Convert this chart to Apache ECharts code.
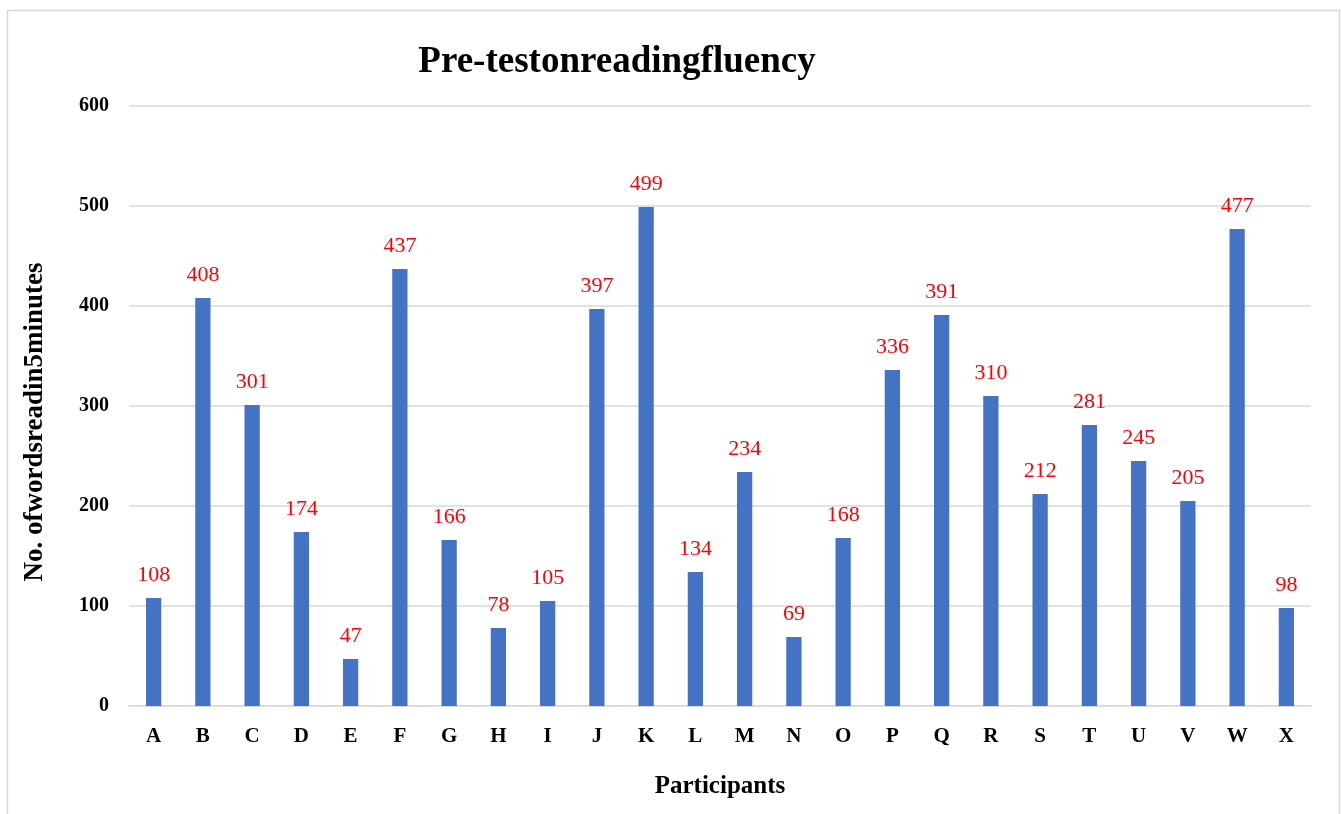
<!DOCTYPE html>
<html><head><meta charset="utf-8">
<script src="https://cdn.jsdelivr.net/npm/echarts@6/dist/echarts.min.js"></script>
<style>html,body{margin:0;padding:0;background:#fff}#c{width:1341px;height:814px}</style>
</head><body><div id="c"></div>
<script>
const categories = ['A','B','C','D','E','F','G','H','I','J','K','L','M','N','O','P','Q','R','S','T','U','V','W','X'];
const values = [108,408,301,174,47,437,166,78,105,397,499,134,234,69,168,336,391,310,212,281,245,205,477,98];
const yTicks = {min:0, max:600, interval:100};
const titleText = 'Pre-testonreadingfluency';
const yName = 'No. ofwordsreadin5minutes';
const xName = 'Participants';
const FONT = '"Liberation Serif","Times New Roman",serif';
const chart = echarts.init(document.getElementById('c'));
chart.setOption({
  animation:false,
  backgroundColor:'#fff',
  graphic:[{type:'rect',shape:{x:7.5,y:10.5,width:1332,height:840},style:{fill:'none',stroke:'#d9d9d9',lineWidth:1.5},silent:true}],
  title:{text:titleText,left:612,textAlign:'center',top:39,textStyle:{fontFamily:FONT,fontWeight:'bold',fontSize:37,color:'#000'}},
  grid:{left:129,right:30,top:106,bottom:108},
  xAxis:{type:'category',data:categories,name:xName,nameLocation:'middle',nameGap:68,
    nameTextStyle:{fontFamily:FONT,fontWeight:'bold',fontSize:25,color:'#000'},
    axisLine:{show:true,lineStyle:{color:'#d9d9d9',width:1.5}},axisTick:{show:false},
    axisLabel:{fontFamily:FONT,fontWeight:'bold',fontSize:21,color:'#000',margin:20}},
  yAxis:{type:'value',min:yTicks.min,max:yTicks.max,interval:yTicks.interval,name:yName,nameLocation:'middle',nameGap:80,nameRotate:90,
    nameTextStyle:{fontFamily:FONT,fontWeight:'bold',fontSize:27,color:'#000',padding:[0,32,0,0]},
    axisLine:{show:false},axisTick:{show:false},
    splitLine:{lineStyle:{color:'#d9d9d9',width:1.5}},
    axisLabel:{fontFamily:FONT,fontWeight:'bold',fontSize:20,color:'#000',margin:20}},
  series:[{type:'bar',data:values,barWidth:'31%',itemStyle:{color:'#4472C4'},
    label:{show:true,position:'top',distance:12,color:'#ff0000',fontFamily:FONT,fontSize:22}}]
});
</script></body></html>
